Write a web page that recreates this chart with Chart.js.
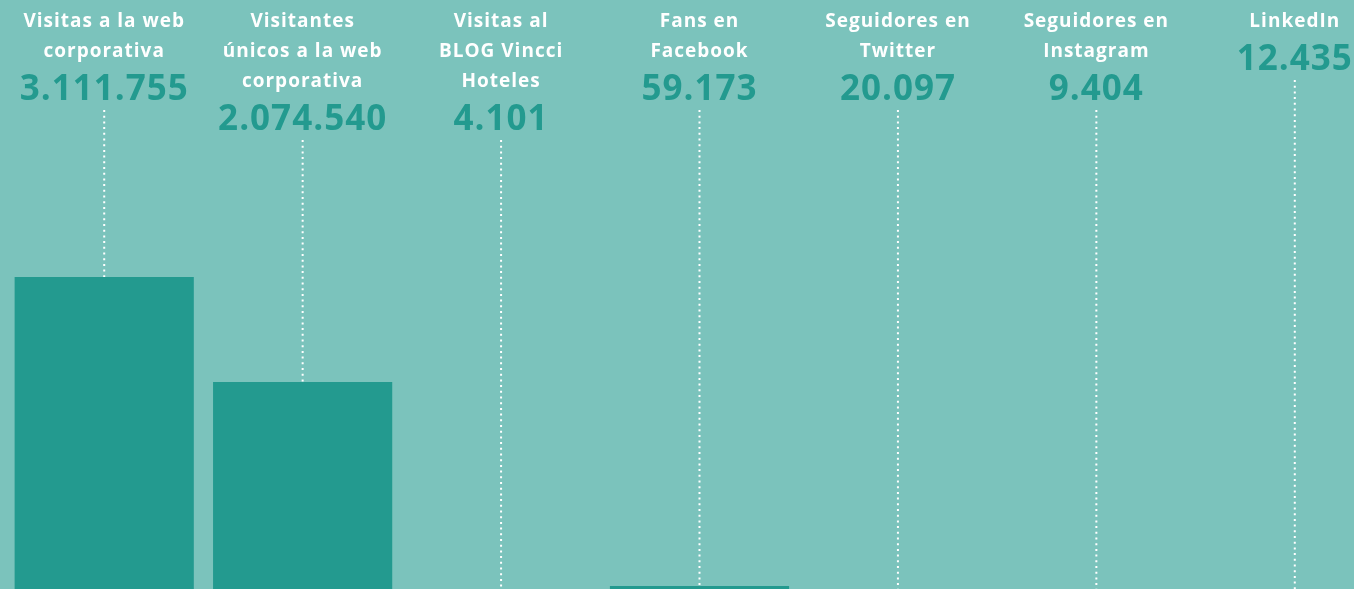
<!DOCTYPE html>
<html>
<head>
<meta charset="utf-8">
<script src="https://cdn.jsdelivr.net/npm/chart.js@4"></script>
<style>
    html, body { margin: 0; padding: 0; background: #7bc3bc; overflow: hidden; }
    #wrap { width: 1394px; height: 592px; position: relative; }
</style>
</head>
<body>
<div id="wrap"><canvas id="kpiChart"></canvas></div>
<script>
const categories = [
    ["Visitas a la web", "corporativa"],
    ["Visitantes", "únicos a la web", "corporativa"],
    ["Visitas al", "BLOG Vincci", "Hoteles"],
    ["Fans en", "Facebook"],
    ["Seguidores en", "Twitter"],
    ["Seguidores en", "Instagram"],
    ["LinkedIn"]
];
const values = [3111755, 2074540, 4101, 59173, 20097, 9404, 12435];
const yMax = 5848000;

const barColor = "#239a8f";
const labelColor = "#ffffff";

function formatNumber(n) {
    return String(n).replace(/\B(?=(\d{3})+(?!\d))/g, ".");
}

const labelPlugin = {
    id: "topLabels",
    afterDatasetsDraw(chart) {
        const ctx = chart.ctx;
        const meta = chart.getDatasetMeta(0);
        ctx.save();
        ctx.textAlign = "center";
        ctx.textBaseline = "middle";
        meta.data.forEach((bar, i) => {
            const lines = categories[i];
            const x = bar.x;

            ctx.fillStyle = labelColor;
            ctx.font = "bold 19px 'Open Sans'";
            ctx.letterSpacing = "1px";
            lines.forEach((line, j) => {
                ctx.fillText(line, x, 22 + 30 * j);
            });

            const valueY = 22 + 30 * (lines.length - 1) + 38;
            ctx.fillStyle = barColor;
            ctx.font = "bold 35px 'Open Sans'";
            ctx.letterSpacing = "1px";
            ctx.fillText(formatNumber(values[i]), x, valueY);
            ctx.letterSpacing = "0px";

            // dotted line from the number down to the bar
            ctx.strokeStyle = "#ffffff";
            ctx.lineWidth = 2;
            ctx.setLineDash([2, 3.7]);
            ctx.beginPath();
            ctx.moveTo(x, valueY + 20);
            ctx.lineTo(x, bar.y);
            ctx.stroke();
        });
        ctx.restore();
    }
};

const ctx = document.getElementById("kpiChart").getContext("2d");
new Chart(ctx, {
    type: "bar",
    data: {
        labels: categories.map(c => c.join(" ")),
        datasets: [{
            data: values,
            backgroundColor: barColor,
            borderWidth: 0,
            barPercentage: 1,
            categoryPercentage: 0.903
        }]
    },
    options: {
        responsive: true,
        maintainAspectRatio: false,
        animation: false,
        layout: { padding: { left: 5, right: 0, top: 0, bottom: 0 } },
        plugins: {
            legend: { display: false },
            tooltip: { enabled: false }
        },
        scales: {
            x: { display: false },
            y: { display: false, min: 0, max: yMax }
        }
    },
    plugins: [labelPlugin]
});
</script>
</body>
</html>
